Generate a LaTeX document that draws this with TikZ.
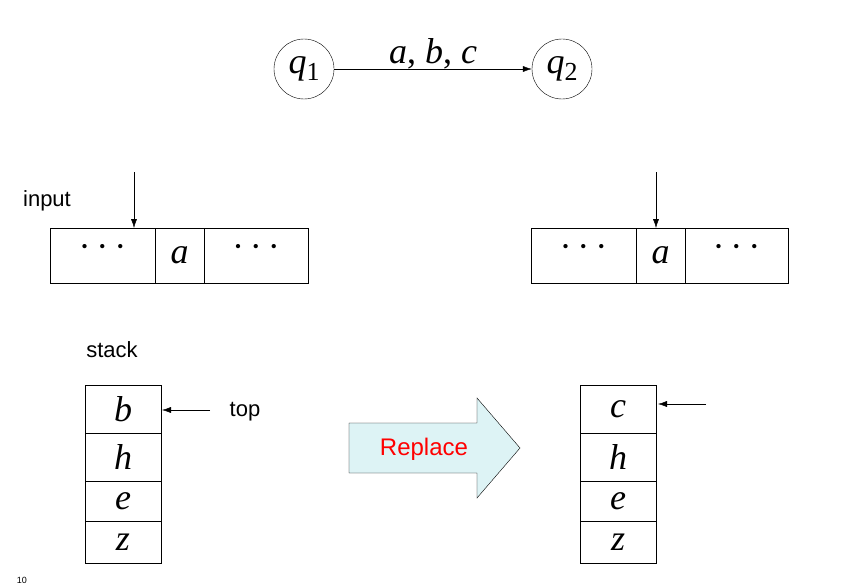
\documentclass[tikz,border=0pt]{standalone}
\usepackage{fontspec}
\setmainfont{Liberation Serif}
\setsansfont{Liberation Sans}
\usetikzlibrary{arrows.meta,positioning}
\definecolor{pale}{HTML}{DDF3F5}
\newcommand{\bigtxt}{\fontsize{36}{36}\selectfont}
\newcommand{\qsub}[1]{\textit{q}{\fontsize{26}{26}\selectfont\raisebox{-7pt}{#1}}}
\newcommand{\tdots}{\raisebox{9pt}{\textperiodcentered\,\textperiodcentered\,\textperiodcentered}}
\tikzset{
	cell/.style={draw,minimum height=55pt,inner sep=0pt,font=\bigtxt},
	scell/.style={draw,minimum width=76pt,inner sep=0pt,font=\bigtxt\itshape},
	lab/.style={font=\sffamily\fontsize{22}{22}\selectfont},
	ptr/.style={-{Latex[length=9pt,width=6pt]},thin}
}
\begin{document}
\begin{tikzpicture}[x=1pt,y=-1pt]
	\useasboundingbox (0,0) rectangle (846,586);
	% states
	\node(q1) [draw,circle,minimum size=60pt,inner sep=0pt,font=\bigtxt] at (304,69) {\qsub{1}};
	\node(q2) [draw,circle,minimum size=60pt,inner sep=0pt,font=\bigtxt] at (562,69) {\qsub{2}};
	\draw[ptr] (q1) -- node[above=-4pt,font=\bigtxt]{\textit{a}, \textit{b}, \textit{c}} (q2);
	% input tapes
	\node(in) [lab] at (47,201) {input};
	\node(l1) [cell,minimum width=105pt] at (102.5,255.5) {\tdots};
	\node(l2) [cell,minimum width=49pt] at (179.5,255.5) {\itshape a};
	\node(l3) [cell,minimum width=104pt] at (256,255.5) {\tdots};
	\node(r1) [cell,minimum width=105pt] at (583.5,255.5) {\tdots};
	\node(r2) [cell,minimum width=49pt] at (660.5,255.5) {\itshape a};
	\node(r3) [cell,minimum width=103pt] at (736.5,255.5) {\tdots};
	\coordinate(hl) at (134,172);
	\coordinate(hr) at (656,172);
	\draw[ptr] (hl) -- (134,228);
	\draw[ptr] (hr) -- (656,228);
	% stacks
	\node(st) [lab] at (112,350) {stack};
	\node(sb) [scell,minimum height=48pt] at (123,409) {b};
	\node(sh) [scell,minimum height=48pt] at (123,457) {h};
	\node(se) [scell,minimum height=40pt] at (123,501) {e};
	\node(sz) [scell,minimum height=42pt] at (123,542) {z};
	\node(tc) [scell,minimum height=48pt] at (618,409) {c};
	\node(th) [scell,minimum height=48pt] at (618,457) {h};
	\node(te) [scell,minimum height=40pt] at (618,501) {e};
	\node(tz) [scell,minimum height=42pt] at (618,542) {z};
	\node(top) [lab] at (245,412) {top};
	\coordinate(tl) at (210,410);
	\coordinate(tp) at (706,404);
	\draw[ptr] (tl) -- (162,410);
	\draw[ptr] (tp) -- (658,404);
	% replace arrow
	\draw[fill=pale] (349,423) -- (477,423) -- (477,398) -- (520,448) -- (477,498) -- (477,473) -- (349,473) -- cycle;
	\node(rep) [font=\sffamily\fontsize{24}{24}\selectfont,text=red] at (424,449) {Replace};
	\node(pg) [font=\sffamily\fontsize{9}{9}\selectfont] at (22,580) {10};
\end{tikzpicture}
\end{document}
